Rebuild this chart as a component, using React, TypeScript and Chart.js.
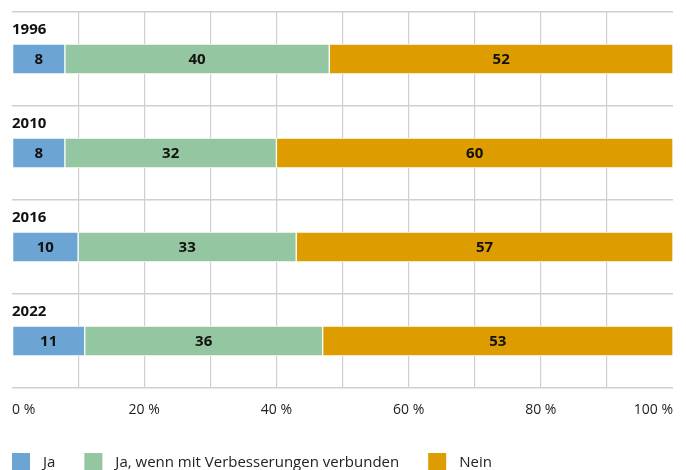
import { useEffect, useRef } from "react";
import { Chart, registerables } from "chart.js";

Chart.register(...registerables);

// Survey years (one stacked bar each)
const years = ["1996", "2010", "2016", "2022"];

// Shares in percent per answer
const ja = [8, 8, 10, 11];
const jaMitVerbesserungen = [40, 32, 33, 36];
const nein = [52, 60, 57, 53];

const seriesNames = ["Ja", "Ja, wenn mit Verbesserungen verbunden", "Nein"];
const seriesColors = ["#6CA5D4", "#94C7A1", "#DD9D00"];

// Labelled ticks on the percentage axis (gridlines every 10)
const labelledTicks = [0, 20, 40, 60, 80, 100];

const FONT = "'Open Sans', 'Noto Sans', sans-serif";
const GRID = "#cfcfcf";

// Bold value inside every bar segment
const segmentLabels = {
  id: "segmentLabels",
  afterDatasetsDraw(chart: any) {
    const ctx = chart.ctx;
    ctx.save();
    ctx.font = `bold 15px ${FONT}`;
    ctx.fillStyle = "#111";
    ctx.textAlign = "center";
    ctx.textBaseline = "middle";
    chart.data.datasets.forEach((ds: any, di: number) => {
      const meta = chart.getDatasetMeta(di);
      meta.data.forEach((bar: any, i: number) => {
        const { x, y, base } = bar.getProps(["x", "y", "base"], true);
        ctx.fillText(String(ds.data[i]), (x + base) / 2, y + 1);
      });
    });
    ctx.restore();
  },
};

// Year heading above each bar
const yearHeadings = {
  id: "yearHeadings",
  afterDatasetsDraw(chart: any) {
    const ctx = chart.ctx;
    const meta = chart.getDatasetMeta(0);
    ctx.save();
    ctx.font = `bold 15px ${FONT}`;
    ctx.fillStyle = "#111";
    ctx.textAlign = "left";
    ctx.textBaseline = "middle";
    meta.data.forEach((bar: any, i: number) => {
      ctx.fillText(chart.data.labels[i], chart.chartArea.left, bar.y - 29);
    });
    ctx.restore();
  },
};

// Legend row along the bottom edge
const bottomLegend = {
  id: "bottomLegend",
  afterDraw(chart: any) {
    const ctx = chart.ctx;
    const box = 18;
    const top = 453;
    ctx.save();
    ctx.font = `15px ${FONT}`;
    ctx.textAlign = "left";
    ctx.textBaseline = "middle";
    let x = chart.chartArea.left;
    chart.data.datasets.forEach((ds: any) => {
      ctx.fillStyle = ds.backgroundColor;
      ctx.fillRect(x, top, box, box);
      ctx.fillStyle = "#222";
      const tx = x + box + 13;
      ctx.fillText(ds.label, tx, top + box / 2 + 1);
      x = tx + ctx.measureText(ds.label).width + 29;
    });
    ctx.restore();
  },
};

export default function App() {
  const canvasRef = useRef<HTMLCanvasElement | null>(null);

  useEffect(() => {
    if (!canvasRef.current) return;
    const values = [ja, jaMitVerbesserungen, nein];
    const chart = new Chart(canvasRef.current, {
      type: "bar",
      data: {
        labels: years,
        datasets: values.map((data, i) => ({
          label: seriesNames[i],
          data,
          backgroundColor: seriesColors[i],
          borderColor: "#ffffff",
          borderWidth: 1,
          borderSkipped: false,
          barThickness: 30,
        })),
      },
      options: {
        indexAxis: "y",
        animation: false,
        responsive: true,
        maintainAspectRatio: false,
        layout: { padding: { left: 12, right: 13, top: 12, bottom: 0 } },
        plugins: {
          legend: { display: false },
          tooltip: { enabled: false },
        },
        scales: {
          x: {
            stacked: true,
            min: 0,
            max: 100,
            border: { display: false },
            grid: {
              color: (c: any) =>
                c.tick && (c.tick.value === 0 || c.tick.value === 100) ? "rgba(0,0,0,0)" : GRID,
              lineWidth: 1.2,
              drawTicks: false,
            },
            ticks: {
              stepSize: 10,
              autoSkip: false,
              maxRotation: 0,
              align: "inner",
              padding: 14,
              color: "#222",
              font: { family: FONT, size: 14 },
              callback: (v: any) => (labelledTicks.includes(Number(v)) ? `${v} %` : ""),
            },
            afterFit: (scale: any) => {
              scale.height = 82;
              scale.paddingLeft = 0;
              scale.paddingRight = 0;
            },
          },
          y: {
            stacked: true,
            border: { display: false },
            grid: { color: GRID, lineWidth: 1.5, drawTicks: false, offset: true },
            ticks: { display: false },
            afterFit: (scale: any) => {
              scale.width = 0;
            },
          },
        },
      },
      plugins: [segmentLabels, yearHeadings, bottomLegend],
    });
    return () => chart.destroy();
  }, []);

  return (
    <div style={{ position: "fixed", left: 0, top: 0, width: 686, height: 470, background: "#fff" }}>
      <canvas ref={canvasRef} />
    </div>
  );
}
